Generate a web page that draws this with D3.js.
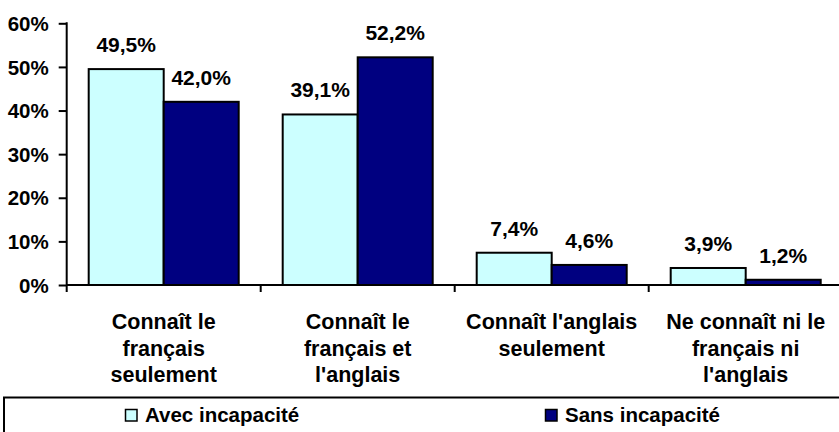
<!DOCTYPE html>
<html>
<head>
<meta charset="utf-8">
<script src="https://cdn.jsdelivr.net/npm/d3@7"></script>
<style>
  body { margin: 0; background: #fff; }
  svg text { font-family: "Liberation Sans", Arial, sans-serif; font-weight: bold; fill: #000; }
</style>
</head>
<body>
<svg width="839" height="432"></svg>
<script>
// data
let categories = [
  ["Connaît le", "français", "seulement"],
  ["Connaît le", "français et", "l'anglais"],
  ["Connaît l'anglais", "seulement"],
  ["Ne connaît ni le", "français ni", "l'anglais"]
];
let seriesNames = ["Avec incapacité", "Sans incapacité"];
let avec = [49.5, 39.1, 7.4, 3.9];
let sans = [42.0, 52.2, 4.6, 1.2];
let yTicks = [0, 10, 20, 30, 40, 50, 60];
let colors = ["#ccffff", "#000080"];

let plot = {left: 66.7, right: 842.7, top: 23.3, bottom: 285};

let svg = d3.select("svg");
svg.append("rect").attr("width", 839).attr("height", 432).attr("fill", "#fff");

let x0 = d3.scaleBand()
  .domain(d3.range(categories.length))
  .range([plot.left, plot.right])
  .padding(0);

let x1 = d3.scaleBand()
  .domain(seriesNames)
  .range([22, x0.bandwidth() - 22]);

let y = d3.scaleLinear().domain([0, 60]).range([plot.bottom, plot.top]);

// y axis
let yAxis = svg.append("g")
  .attr("transform", `translate(${plot.left},0)`)
  .call(d3.axisLeft(y).tickValues(yTicks).tickSize(8).tickPadding(10)
    .tickFormat(d => d + "%"));
yAxis.select(".domain").remove();
yAxis.selectAll(".tick line").attr("stroke", "#000").attr("stroke-width", 2);
yAxis.selectAll(".tick text").style("font-size", "20.5px").attr("dy", "0.35em");
yAxis.append("line")
  .attr("x1", 0).attr("x2", 0)
  .attr("y1", plot.top - 1).attr("y2", plot.bottom + 7)
  .attr("stroke", "#000").attr("stroke-width", 2);

// bars
let rows = categories.map((c, i) => ({i: i, values: [avec[i], sans[i]]}));

let groups = svg.selectAll(".group")
  .data(rows)
  .enter().append("g")
  .attr("class", "group")
  .attr("transform", d => `translate(${x0(d.i)},0)`);

groups.selectAll("rect")
  .data(d => d.values.map((v, k) => ({name: seriesNames[k], value: v, k: k})))
  .enter().append("rect")
  .attr("x", d => x1(d.name))
  .attr("width", x1.bandwidth())
  .attr("y", d => y(d.value))
  .attr("height", d => y(0) - y(d.value))
  .attr("fill", d => colors[d.k])
  .attr("stroke", "#000")
  .attr("stroke-width", 2);

groups.selectAll(".val")
  .data(d => d.values.map((v, k) => ({name: seriesNames[k], value: v})))
  .enter().append("text")
  .attr("class", "val")
  .attr("x", d => x1(d.name) + x1.bandwidth() / 2)
  .attr("y", d => y(d.value) - 17)
  .attr("text-anchor", "middle")
  .style("font-size", "21px")
  .text(d => d3.format(".1f")(d.value).replace(".", ",") + "%");

// x axis
svg.append("line")
  .attr("x1", plot.left).attr("x2", 839)
  .attr("y1", plot.bottom).attr("y2", plot.bottom)
  .attr("stroke", "#000").attr("stroke-width", 2);

svg.selectAll(".xtick")
  .data(d3.range(1, categories.length))
  .enter().append("line")
  .attr("class", "xtick")
  .attr("x1", d => x0(d)).attr("x2", d => x0(d))
  .attr("y1", plot.bottom).attr("y2", plot.bottom + 7)
  .attr("stroke", "#000").attr("stroke-width", 2);

// category labels
let catText = svg.selectAll(".cat")
  .data(categories)
  .enter().append("text")
  .attr("class", "cat")
  .attr("text-anchor", "middle")
  .style("font-size", "21.5px")
  .attr("transform", (d, i) => `translate(${x0(i) + x0.bandwidth() / 2},329)`);

catText.selectAll("tspan")
  .data(d => d)
  .enter().append("tspan")
  .attr("x", 0)
  .attr("y", (d, j) => j * 26.7)
  .text(d => d);

// legend
let legend = svg.append("g");
legend.append("rect")
  .attr("x", 4).attr("y", 397.5)
  .attr("width", 900).attr("height", 100)
  .attr("fill", "#fff")
  .attr("stroke", "#000").attr("stroke-width", 2);

let legendX = [125, 545];
let items = legend.selectAll(".item")
  .data(seriesNames)
  .enter().append("g")
  .attr("class", "item")
  .attr("transform", (d, i) => `translate(${legendX[i]},409)`);

items.append("rect")
  .attr("x", 0.5).attr("y", 0.5)
  .attr("width", 11.5).attr("height", 11.5)
  .attr("fill", (d, i) => colors[i])
  .attr("stroke", "#000").attr("stroke-width", 1.5);

items.append("text")
  .attr("x", 20)
  .attr("y", 12.5)
  .style("font-size", "20.5px")
  .text(d => d);
</script>
</body>
</html>
